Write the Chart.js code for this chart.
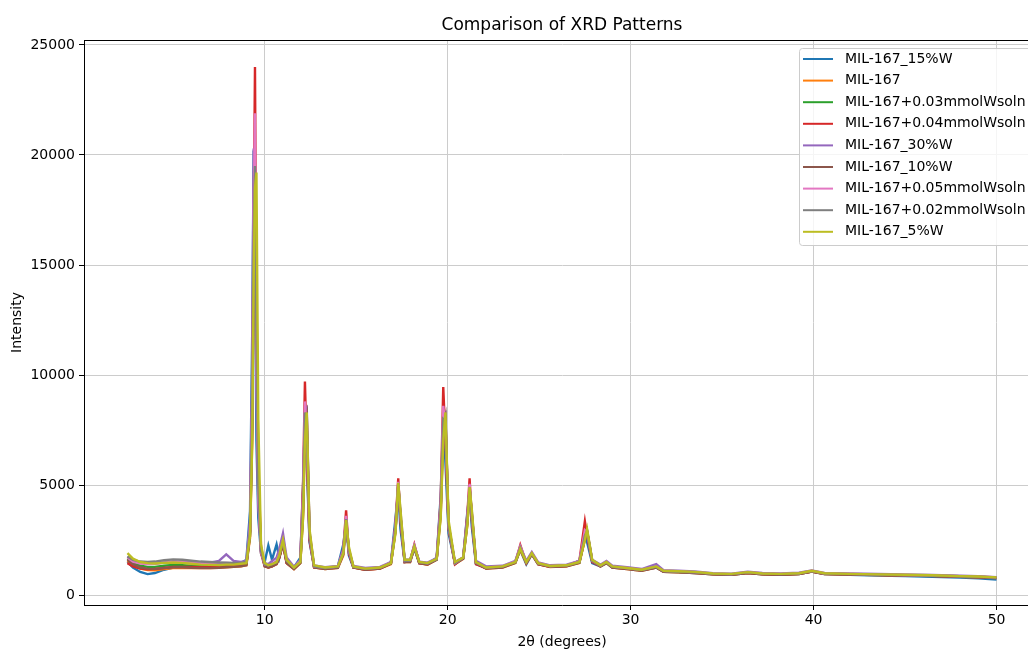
<!DOCTYPE html>
<html>
<head>
<meta charset="utf-8">
<script src="https://cdn.jsdelivr.net/npm/chart.js@4.4.0/dist/chart.umd.min.js"></script>
<style>
  html, body { margin: 0; padding: 0; background: #fff; overflow: hidden; }
  #wrap { width: 1028px; height: 649px; overflow: hidden; }
</style>
</head>
<body>
<div id="wrap"><canvas id="xrdChart" width="1060" height="649"></canvas></div>
<script>
// 2-theta positions shared by all patterns (degrees)
var twoTheta = [
  2.5, 2.8, 3.2, 3.6, 4.0, 4.5, 5.0, 5.5, 6.0, 6.5,
  7.0, 7.5, 7.9, 8.3, 8.7, 9.0, 9.2, 9.32, 9.4, 9.47,
  9.55, 9.65, 9.8, 10.0, 10.2, 10.4, 10.65, 10.8, 11.0, 11.2,
  11.6, 11.95, 12.1, 12.2, 12.3, 12.45, 12.7, 13.3, 14.0, 14.3,
  14.45, 14.6, 14.85, 15.5, 16.3, 16.9, 17.15, 17.3, 17.42, 17.65,
  17.95, 18.18, 18.45, 18.9, 19.4, 19.62, 19.76, 19.88, 20.05, 20.4,
  20.85, 21.08, 21.2, 21.32, 21.55, 22.1, 23.0, 23.7, 23.97, 24.3,
  24.6, 24.95, 25.6, 26.5, 27.2, 27.5, 27.62, 27.9, 28.35, 28.68,
  29.0, 29.8, 30.6, 31.4, 31.8, 32.6, 33.5, 34.5, 35.5, 36.4,
  37.2, 38.2, 39.2, 39.9, 40.6, 42.0, 43.5, 45.0, 46.5, 48.0,
  49.0, 50.0
];

// Intensity of each sample
var w15 = [
  1500, 1250, 1050, 950, 1000, 1150, 1250, 1280, 1300, 1300,
  1310, 1320, 1350, 1380, 1450, 1600, 3800, 12000, 20200, 15000,
  7000, 3500, 1900, 1500, 2250, 1600, 2300, 1700, 2400, 1500,
  1250, 1700, 5000, 8100, 6000, 2400, 1300, 1230, 1300, 2300,
  3300, 1800, 1250, 1200, 1230, 1500, 3500, 4770, 3000, 1500,
  1550, 2100, 1450, 1400, 1700, 4500, 8050, 6000, 2800, 1450,
  1700, 3800, 4640, 3100, 1400, 1250, 1280, 1500, 2050, 1400,
  1850, 1400, 1300, 1330, 1550, 2800, 2400, 1450, 1300, 1450,
  1250, 1200, 1120, 1250, 1060, 1040, 1000, 940, 920, 1000,
  940, 920, 950, 1060, 950, 920, 890, 860, 830, 790,
  760, 700
];
var pure = [
  1550, 1350, 1200, 1130, 1120, 1180, 1230, 1240, 1230, 1220,
  1230, 1240, 1260, 1280, 1310, 1350, 2600, 7000, 15000, 18500,
  14000, 6000, 2200, 1350, 1250, 1300, 1400, 1700, 2300, 1450,
  1180, 1450, 3600, 7500, 8000, 2800, 1250, 1180, 1230, 1800,
  3300, 2000, 1250, 1150, 1200, 1400, 2900, 4950, 3600, 1500,
  1500, 2150, 1450, 1380, 1600, 3600, 7300, 8100, 3200, 1400,
  1650, 3200, 4800, 3700, 1450, 1200, 1250, 1450, 2050, 1450,
  1850, 1400, 1270, 1300, 1450, 2500, 2900, 1550, 1300, 1450,
  1250, 1180, 1100, 1250, 1050, 1030, 1000, 940, 920, 1000,
  940, 920, 950, 1060, 950, 930, 910, 890, 870, 830,
  810, 770
];
var sol003 = [
  1650, 1450, 1330, 1280, 1280, 1330, 1370, 1360, 1330, 1310,
  1300, 1300, 1320, 1330, 1370, 1400, 2800, 8000, 16000, 18000,
  12000, 5000, 2000, 1350, 1300, 1350, 1450, 1750, 2400, 1550,
  1220, 1500, 4000, 8000, 7500, 2700, 1300, 1220, 1270, 2000,
  3400, 2000, 1270, 1180, 1230, 1450, 3000, 5000, 3600, 1550,
  1550, 2200, 1480, 1420, 1620, 3900, 7900, 7800, 3100, 1450,
  1680, 3400, 4850, 3600, 1450, 1230, 1280, 1480, 2100, 1480,
  1880, 1420, 1300, 1330, 1480, 2600, 2850, 1550, 1320, 1480,
  1270, 1210, 1130, 1280, 1080, 1060, 1030, 960, 940, 1020,
  960, 940, 970, 1080, 970, 950, 930, 900, 880, 850,
  830, 790
];
var sol004 = [
  1450, 1300, 1200, 1170, 1180, 1230, 1270, 1280, 1270, 1260,
  1270, 1280, 1300, 1320, 1350, 1400, 2900, 9000, 17000, 24000,
  12000, 4500, 1900, 1300, 1250, 1300, 1420, 1700, 2350, 1450,
  1200, 1550, 5200, 9700, 6500, 2500, 1250, 1200, 1250, 2100,
  3850, 1900, 1250, 1150, 1200, 1450, 3200, 5300, 3400, 1500,
  1550, 2300, 1450, 1400, 1650, 4300, 9450, 7000, 3000, 1400,
  1700, 3700, 5300, 3400, 1400, 1220, 1270, 1500, 2270, 1450,
  1900, 1400, 1280, 1320, 1550, 3350, 2700, 1500, 1300, 1500,
  1260, 1200, 1120, 1260, 1070, 1050, 1020, 950, 930, 1010,
  950, 930, 960, 1070, 960, 940, 920, 890, 870, 840,
  820, 780
];
var w30 = [
  1750, 1550, 1450, 1420, 1430, 1480, 1520, 1500, 1470, 1460,
  1470, 1550, 1850, 1550, 1500, 1550, 3400, 10500, 20300, 17000,
  9000, 4200, 2000, 1450, 1400, 1550, 1700, 2100, 2800, 1700,
  1280, 1600, 4500, 8400, 8500, 2900, 1350, 1260, 1320, 2100,
  3500, 2100, 1320, 1230, 1280, 1500, 3100, 5100, 3800, 1600,
  1600, 2250, 1520, 1470, 1680, 4000, 8000, 8200, 3200, 1500,
  1720, 3500, 4950, 3800, 1550, 1300, 1330, 1550, 2200, 1550,
  1950, 1480, 1350, 1380, 1550, 2700, 2950, 1600, 1380, 1550,
  1330, 1260, 1180, 1400, 1130, 1100, 1070, 990, 970, 1060,
  1000, 980, 1010, 1120, 1000, 980, 960, 930, 910, 880,
  850, 810
];
var w10 = [
  1600, 1400, 1250, 1200, 1190, 1230, 1260, 1260, 1240, 1230,
  1230, 1240, 1260, 1280, 1310, 1350, 2700, 7500, 15500, 19000,
  13000, 5500, 2100, 1300, 1250, 1300, 1400, 1700, 2350, 1450,
  1180, 1450, 3800, 7800, 8200, 2800, 1250, 1180, 1230, 1850,
  3400, 2000, 1250, 1150, 1200, 1420, 2900, 5000, 3600, 1500,
  1500, 2150, 1450, 1390, 1600, 3700, 7600, 8100, 3200, 1420,
  1650, 3300, 4850, 3700, 1450, 1200, 1250, 1460, 2100, 1460,
  1860, 1400, 1280, 1310, 1460, 2550, 2900, 1550, 1300, 1460,
  1250, 1180, 1100, 1250, 1050, 1030, 1000, 940, 920, 1000,
  940, 920, 950, 1060, 950, 930, 910, 880, 860, 830,
  810, 770
];
var sol005 = [
  1700, 1520, 1430, 1410, 1420, 1470, 1510, 1500, 1480, 1460,
  1450, 1450, 1460, 1450, 1460, 1500, 3000, 9000, 17500, 21900,
  11000, 4500, 1950, 1400, 1350, 1420, 1550, 1850, 2500, 1600,
  1260, 1550, 4600, 8800, 7200, 2700, 1300, 1240, 1290, 2000,
  3600, 2000, 1290, 1200, 1250, 1480, 3100, 5150, 3600, 1550,
  1570, 2250, 1500, 1440, 1650, 4100, 8600, 7600, 3100, 1450,
  1700, 3500, 5050, 3600, 1480, 1250, 1300, 1520, 2200, 1500,
  1920, 1450, 1320, 1350, 1530, 2950, 2850, 1560, 1340, 1510,
  1290, 1230, 1150, 1300, 1100, 1070, 1040, 970, 950, 1040,
  980, 960, 990, 1100, 980, 960, 940, 910, 890, 860,
  840, 800
];
var sol002 = [
  1750, 1600, 1520, 1500, 1520, 1580, 1620, 1600, 1560, 1520,
  1500, 1480, 1470, 1460, 1470, 1500, 2900, 8500, 16500, 19500,
  12000, 5000, 2000, 1400, 1350, 1400, 1500, 1800, 2450, 1550,
  1250, 1500, 4200, 8300, 7600, 2700, 1300, 1230, 1280, 1950,
  3450, 2050, 1280, 1190, 1240, 1460, 3000, 5000, 3600, 1550,
  1560, 2200, 1490, 1430, 1630, 3900, 8000, 7900, 3100, 1450,
  1690, 3400, 4900, 3600, 1470, 1240, 1290, 1500, 2150, 1490,
  1900, 1430, 1310, 1340, 1500, 2700, 2900, 1560, 1330, 1490,
  1280, 1220, 1140, 1280, 1090, 1060, 1030, 960, 940, 1030,
  970, 950, 980, 1090, 970, 950, 930, 900, 880, 850,
  830, 790
];
var w5 = [
  1900, 1650, 1500, 1450, 1430, 1460, 1480, 1460, 1420, 1380,
  1370, 1360, 1380, 1380, 1420, 1450, 2700, 7000, 14500, 18500,
  19200, 8000, 2300, 1450, 1350, 1400, 1500, 1800, 2500, 1600,
  1250, 1500, 3500, 7000, 8300, 3000, 1350, 1250, 1300, 1900,
  3400, 2200, 1300, 1200, 1250, 1450, 2800, 5100, 3900, 1600,
  1600, 2200, 1500, 1450, 1650, 3500, 7000, 8300, 3400, 1500,
  1700, 3200, 4900, 3900, 1500, 1250, 1300, 1500, 2100, 1500,
  1900, 1450, 1320, 1350, 1500, 2500, 3000, 1600, 1350, 1500,
  1300, 1230, 1150, 1300, 1100, 1080, 1050, 980, 960, 1040,
  980, 960, 990, 1100, 990, 960, 940, 920, 900, 860,
  840, 800
];

var seriesNames = [
  "MIL-167_15%W", "MIL-167", "MIL-167+0.03mmolWsoln", "MIL-167+0.04mmolWsoln",
  "MIL-167_30%W", "MIL-167_10%W", "MIL-167+0.05mmolWsoln", "MIL-167+0.02mmolWsoln",
  "MIL-167_5%W"
];
var seriesValues = [w15, pure, sol003, sol004, w30, w10, sol005, sol002, w5];
var seriesColors = [
  "#1f77b4", "#ff7f0e", "#2ca02c", "#d62728", "#9467bd",
  "#8c564b", "#e377c2", "#7f7f7f", "#bcbd22"
];

var xTicks = [10, 20, 30, 40, 50];
var yTicks = [0, 5000, 10000, 15000, 20000, 25000];

Chart.defaults.font.family = "'DejaVu Sans', sans-serif";
Chart.defaults.color = "#000";

// later series are drawn on top, like matplotlib does
var datasets = seriesNames.map((name, i) => ({
    label: name,
    data: twoTheta.map((t, k) => ({ x: t, y: seriesValues[i][k] })),
    borderColor: seriesColors[i],
    backgroundColor: seriesColors[i],
    borderWidth: 2.4,
    pointRadius: 0,
    tension: 0,
    order: -i
}));

// title, top spine and the legend box inside the plot
var plotExtras = {
    id: "plotExtras",
    afterDraw(chart) {
        var ctx = chart.ctx;
        var area = chart.chartArea;
        ctx.save();

        ctx.strokeStyle = "#000";
        ctx.lineWidth = 1;
        ctx.beginPath();
        ctx.moveTo(area.left, area.top + 0.5);
        ctx.lineTo(area.right, area.top + 0.5);
        ctx.stroke();

        ctx.fillStyle = "#000";
        ctx.font = "17px 'DejaVu Sans'";
        ctx.textAlign = "center";
        ctx.textBaseline = "middle";
        ctx.fillText("Comparison of XRD Patterns", (area.left + area.right) / 2, 26);

        var bx = area.right - 241, by = area.top + 8;
        ctx.fillStyle = "rgba(255,255,255,0.8)";
        ctx.strokeStyle = "#cccccc";
        ctx.beginPath();
        ctx.roundRect(bx + 0.5, by + 0.5, 300, 197, 3);
        ctx.fill();
        ctx.stroke();

        ctx.font = "14px 'DejaVu Sans'";
        ctx.textAlign = "left";
        seriesNames.forEach((name, i) => {
            var cy = by + 11 + i * 21.6;
            ctx.strokeStyle = seriesColors[i];
            ctx.lineWidth = 2;
            ctx.beginPath();
            ctx.moveTo(bx + 4, cy);
            ctx.lineTo(bx + 34, cy);
            ctx.stroke();
            ctx.fillStyle = "#000";
            ctx.fillText(name, bx + 46, cy);
        });
        ctx.restore();
    }
};

new Chart(document.getElementById("xrdChart"), {
    type: "line",
    data: { datasets: datasets },
    options: {
        responsive: false,
        animation: false,
        layout: { padding: { left: 0, top: 40, right: 20, bottom: 0 } },
        plugins: {
            legend: { display: false },
            tooltip: { enabled: false }
        },
        scales: {
            x: {
                type: "linear",
                min: 0.125,
                max: 52.375,
                afterBuildTicks: s => { s.ticks = xTicks.map(v => ({ value: v })); },
                afterFit: s => { s.height = 44; },
                ticks: { font: { size: 14 }, padding: 2, maxRotation: 0, callback: v => String(v) },
                grid: { color: "#cccccc", lineWidth: 1, tickColor: "#000", tickLength: 5, tickWidth: 1 },
                border: { color: "#000", width: 1 },
                title: { display: true, text: "2θ (degrees)", font: { size: 14 }, padding: { top: 0, bottom: -2 } }
            },
            y: {
                type: "linear",
                min: -454,
                max: 25227,
                afterBuildTicks: s => { s.ticks = yTicks.map(v => ({ value: v })); },
                afterFit: s => { s.width = 84; },
                ticks: { font: { size: 14 }, padding: 4, callback: v => String(v) },
                grid: { color: "#cccccc", lineWidth: 1, tickColor: "#000", tickLength: 5, tickWidth: 1 },
                border: { color: "#000", width: 1 },
                title: { display: true, text: "Intensity", font: { size: 14 }, padding: { top: 9, bottom: 0 } }
            }
        }
    },
    plugins: [plotExtras]
});
</script>
</body>
</html>
